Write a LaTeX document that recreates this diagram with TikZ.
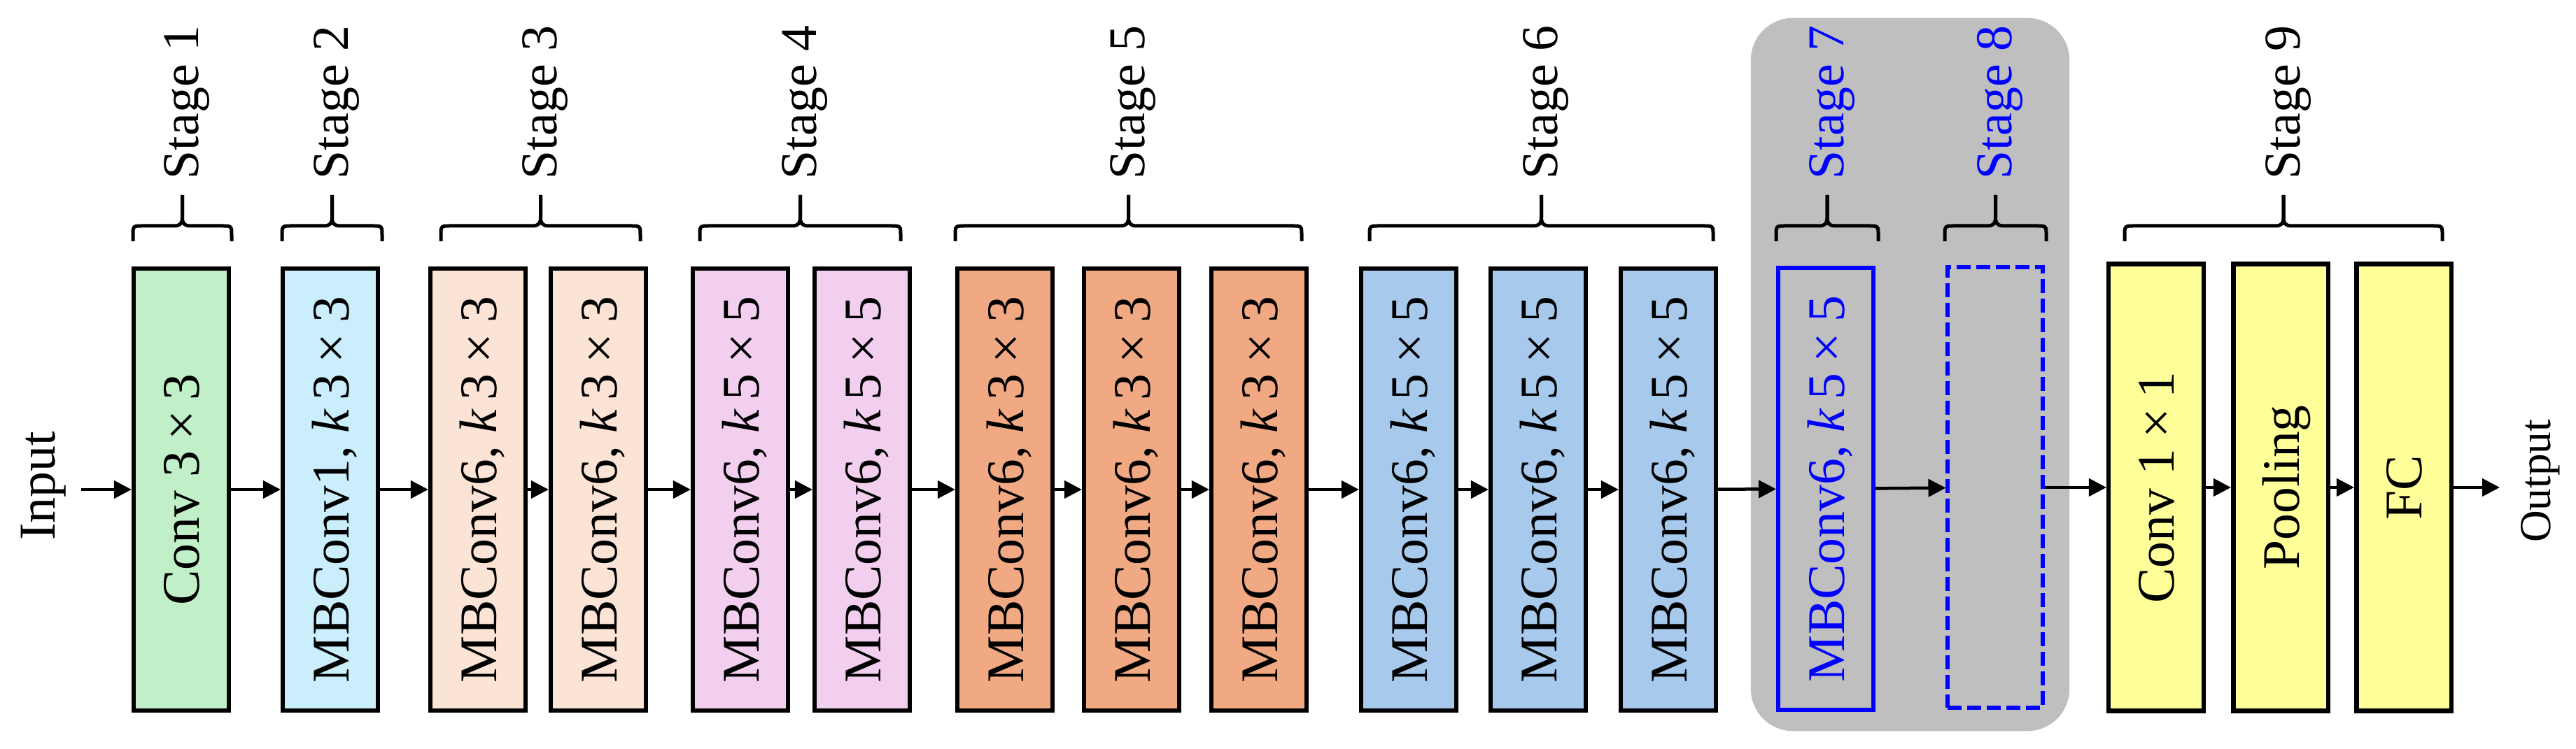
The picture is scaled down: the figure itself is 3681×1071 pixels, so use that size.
\documentclass[tikz,border=0pt]{standalone}
\usepackage{fontspec}
\setmainfont{Liberation Serif}
\usetikzlibrary{arrows.meta}
\definecolor{cgreen}{HTML}{C1F0C8}
\definecolor{cltblue}{HTML}{CAEEFB}
\definecolor{cpeach}{HTML}{FBE3D6}
\definecolor{cpink}{HTML}{F2CFEE}
\definecolor{corange}{HTML}{F1A983}
\definecolor{cblue}{HTML}{A6C9EC}
\definecolor{cyell}{HTML}{FFFF99}
\definecolor{cgrey}{HTML}{BFBFBF}
\newcommand\rt[1]{\rotatebox{90}{\raisebox{0pt}[\height][0pt]{#1}}}
\newcommand\tms{\hspace{0.2em}×\hspace{0.2em}}
\newcommand\kk{\textit{k}\hspace{0.16em}}
\newcommand\stgbrace[2]{%
  \pgfmathsetmacro\xm{(#1+#2)/2}%
  \draw[brc] (#1,345) -- (#1,337) .. controls (#1,323) .. (#1+14,323) -- (\xm-12,323)
     .. controls (\xm-2,323) and (\xm,319) .. (\xm,310) -- (\xm,279);
  \draw[brc] (#2,345) -- (#2,337) .. controls (#2,323) .. (#2-14,323) -- (\xm+12,323)
     .. controls (\xm+2,323) and (\xm,319) .. (\xm,310) -- (\xm,279);
}
\begin{document}
\begin{tikzpicture}[x=0.01cm,y=-0.01cm,
  blk/.style={draw=black, line width=0.065cm, minimum width=1.355cm, minimum height=6.315cm,
    inner sep=0pt, font=\fontsize{21.5}{25}\selectfont},
  ylw/.style={blk, fill=cyell, minimum height=6.39cm},
  arr/.style={line width=0.045cm, -{Triangle[length=0.25cm,width=0.25cm]}},
  brc/.style={line width=0.05cm},
  stg/.style={rotate=90, anchor=base west, inner sep=0pt, font=\fontsize{21}{25}\selectfont},
  io/.style={rotate=90, inner sep=0pt},
]
\useasboundingbox (0,0) rectangle (3681,1071);

% grey group background
\node[fill=cgrey, rounded corners=0.6cm, minimum width=4.55cm, minimum height=10.19cm,
  inner sep=0pt] (grp) at (2729.5,535.5) {};

% blocks
\node[blk, fill=cgreen]  (b1)  at (259,700)  {\rt{Conv 3\tms3}};
\node[blk, fill=cltblue] (b2)  at (472,700)  {\rt{MBConv1, \kk3\tms3}};
\node[blk, fill=cpeach]  (b3)  at (683,700)  {\rt{MBConv6, \kk3\tms3}};
\node[blk, fill=cpeach]  (b4)  at (855,700)  {\rt{MBConv6, \kk3\tms3}};
\node[blk, fill=cpink]   (b5)  at (1058,700) {\rt{MBConv6, \kk5\tms5}};
\node[blk, fill=cpink]   (b6)  at (1232,700) {\rt{MBConv6, \kk5\tms5}};
\node[blk, fill=corange] (b7)  at (1436,700) {\rt{MBConv6, \kk3\tms3}};
\node[blk, fill=corange] (b8)  at (1617,700) {\rt{MBConv6, \kk3\tms3}};
\node[blk, fill=corange] (b9)  at (1799,700) {\rt{MBConv6, \kk3\tms3}};
\node[blk, fill=cblue]   (b10) at (2013,700) {\rt{MBConv6, \kk5\tms5}};
\node[blk, fill=cblue]   (b11) at (2198,700) {\rt{MBConv6, \kk5\tms5}};
\node[blk, fill=cblue]   (b12) at (2384,700) {\rt{MBConv6, \kk5\tms5}};
\node[blk, draw=blue, text=blue] (b13) at (2609,699) {\rt{MBConv6, \kk5\tms5}};
\node[blk, draw=blue, line width=0.055cm, dash pattern=on 0.2cm off 0.08cm,
  minimum height=6.30cm] (b14) at (2851,697) {};
\node[ylw] (b15) at (3081,697) {\rt{Conv 1\tms1}};
\node[ylw] (b16) at (3259,697) {\rt{Pooling}};
\node[ylw] (b17) at (3435,697) {\rt{FC}};

% input / output
\node[io, font=\fontsize{21}{25}\selectfont] (inp) at (62,695) {Input};
\node[io, font=\fontsize{18}{22}\selectfont] (outp) at (3630,688) {Output};
\coordinate (inarr) at (116,700);
\coordinate (outarr) at (3572,697);

% connectors
\draw[arr] (inarr) -- (b1);
\draw[arr] (b1) -- (b2);
\draw[arr] (b2) -- (b3);
\draw[arr] (b3) -- (b4);
\draw[arr] (b4) -- (b5);
\draw[arr] (b5) -- (b6);
\draw[arr] (b6) -- (b7);
\draw[arr] (b7) -- (b8);
\draw[arr] (b8) -- (b9);
\draw[arr] (b9) -- (b10);
\draw[arr] (b10) -- (b11);
\draw[arr] (b11) -- (b12);
\draw[arr] (b12) -- (b13);
\draw[arr] (b13) -- (b14);
\draw[arr] (b14) -- (b15);
\draw[arr] (b15) -- (b16);
\draw[arr] (b16) -- (b17);
\draw[arr] (b17) -- (outarr);

% braces
\stgbrace{190}{331}
\stgbrace{403}{546}
\stgbrace{630}{915}
\stgbrace{1000}{1287}
\stgbrace{1365}{1860}
\stgbrace{1957}{2448}
\stgbrace{2538}{2684}
\stgbrace{2779}{2924}
\stgbrace{3036}{3490}

% stage labels
\node[stg] (s1) at (260+23,257)  {Stage 1};
\node[stg] (s2) at (474+23,257)  {Stage 2};
\node[stg] (s3) at (772+23,257)  {Stage 3};
\node[stg] (s4) at (1143+23,257) {Stage 4};
\node[stg] (s5) at (1612+23,257) {Stage 5};
\node[stg] (s6) at (2202+23,257) {Stage 6};
\node[stg, text=blue] (s7) at (2611+23,257) {Stage 7};
\node[stg, text=blue] (s8) at (2851+23,257) {Stage 8};
\node[stg] (s9) at (3263+23,257) {Stage 9};
\end{tikzpicture}
\end{document}
